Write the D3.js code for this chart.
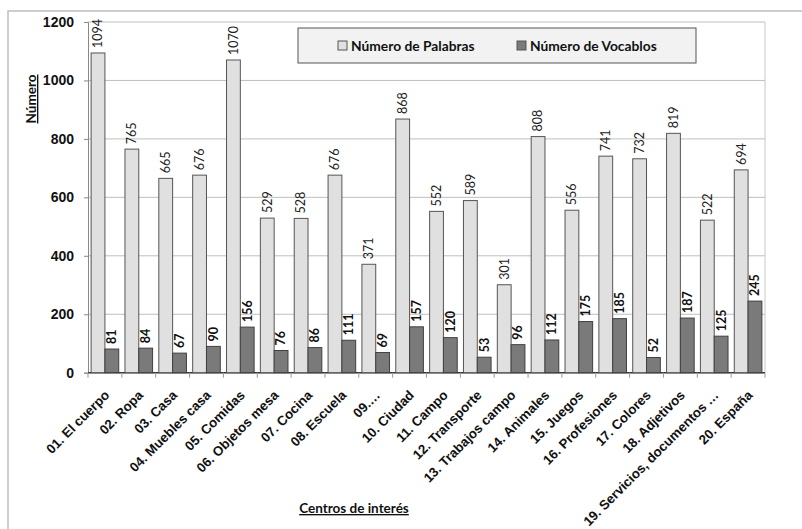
<!DOCTYPE html>
<html>
<head>
<meta charset="utf-8">
<script src="https://cdn.jsdelivr.net/npm/d3@7"></script>
<style>
  html, body { margin: 0; padding: 0; background: #fff; }
  svg { display: block; font-family: Lato, "Open Sans", "Liberation Sans", sans-serif; }
</style>
</head>
<body>
<svg id="chart" width="802" height="529"></svg>
<script>
// Centros de interés y recuentos
const categories = [
  "01. El cuerpo", "02. Ropa", "03. Casa", "04. Muebles casa", "05. Comidas",
  "06. Objetos mesa", "07. Cocina", "08. Escuela", "09.…", "10. Ciudad",
  "11. Campo", "12. Transporte", "13. Trabajos campo", "14. Animales", "15. Juegos",
  "16. Profesiones", "17. Colores", "18. Adjetivos", "19. Servicios, documentos …", "20. España"
];
const palabras = [1094, 765, 665, 676, 1070, 529, 528, 676, 371, 868, 552, 589, 301, 808, 556, 741, 732, 819, 522, 694];
const vocablos = [81, 84, 67, 90, 156, 76, 86, 111, 69, 157, 120, 53, 96, 112, 175, 185, 52, 187, 125, 245];
const seriesNames = ["Número de Palabras", "Número de Vocablos"];
const yTicks = [0, 200, 400, 600, 800, 1000, 1200];

const svg = d3.select("#chart");
const plotLeft = 88, plotRight = 765, plotTop = 22, plotBottom = 372.7;

// Marco exterior
svg.append("path")
  .attr("d", "M8,529 L8,11 L802,11")
  .attr("fill", "none").attr("stroke", "#bdbdbd").attr("stroke-width", 1.5);

const x = d3.scaleBand().domain(categories).range([plotLeft, plotRight]).paddingInner(0).paddingOuter(0);
const x1 = d3.scaleBand().domain(seriesNames).range([0, x.bandwidth()]).paddingInner(0).paddingOuter(0.226);
const y = d3.scaleLinear().domain([0, 1200]).range([plotBottom, plotTop]);

// Líneas de cuadrícula
svg.append("g").selectAll("line").data(yTicks.filter(d => d > 0)).join("line")
  .attr("x1", plotLeft).attr("x2", plotRight)
  .attr("y1", d => y(d)).attr("y2", d => y(d))
  .attr("stroke", "#bfbfbf").attr("stroke-width", 1);
// Borde derecho del área de trazado
svg.append("line").attr("x1", plotRight).attr("x2", plotRight).attr("y1", plotTop).attr("y2", plotBottom)
  .attr("stroke", "#c8c8c8").attr("stroke-width", 1);

// Eje Y
const yAxis = svg.append("g").attr("transform", `translate(${plotLeft},0)`)
  .call(d3.axisLeft(y).tickValues(yTicks).tickSize(4).tickPadding(10).tickFormat(d3.format("d")));
yAxis.select(".domain").attr("stroke", "#888");
yAxis.selectAll(".tick line").attr("stroke", "#888");
yAxis.selectAll(".tick text").attr("font-size", 14).attr("font-weight", "bold").attr("fill", "#111");

// Eje X
const xAxis = svg.append("g").attr("transform", `translate(0,${plotBottom})`)
  .call(d3.axisBottom(x).tickSize(0).tickPadding(0));
xAxis.select(".domain").remove();
xAxis.append("line").attr("x1", plotLeft).attr("x2", plotRight).attr("stroke", "#333").attr("stroke-width", 1.5);
xAxis.selectAll(".boundary").data(d3.range(categories.length + 1)).join("line")
  .attr("class", "boundary")
  .attr("x1", i => plotLeft + i * x.step()).attr("x2", i => plotLeft + i * x.step())
  .attr("y1", 0).attr("y2", 5).attr("stroke", "#999");
xAxis.selectAll(".tick text")
  .attr("font-size", 13.3).attr("font-weight", "bold").attr("fill", "#111")
  .attr("text-anchor", "end")
  .attr("transform", "translate(2,20) rotate(-45)")
  .attr("dy", "0.35em");

const groups = svg.append("g").selectAll("g").data(categories).join("g")
  .attr("transform", d => `translate(${x(d)},0)`);

// Barras: palabras
groups.append("rect")
  .attr("x", x1(seriesNames[0])).attr("width", x1.bandwidth())
  .attr("y", (d, i) => y(palabras[i])).attr("height", (d, i) => y(0) - y(palabras[i]))
  .attr("fill", "#e0e0e0").attr("stroke", "#555").attr("stroke-width", 1);
// Barras: vocablos
groups.append("rect")
  .attr("x", x1(seriesNames[1])).attr("width", x1.bandwidth())
  .attr("y", (d, i) => y(vocablos[i])).attr("height", (d, i) => y(0) - y(vocablos[i]))
  .attr("fill", "#7a7a7a").attr("stroke", "#404040").attr("stroke-width", 1);

// Etiquetas de valor
groups.append("text")
  .attr("transform", (d, i) => `translate(${x1(seriesNames[0]) + x1.bandwidth() / 2},${y(palabras[i]) - 5}) rotate(-90)`)
  .attr("dy", "0.35em").attr("text-anchor", "start")
  .attr("font-size", 12.5).attr("fill", "#222")
  .text((d, i) => palabras[i]);
groups.append("text")
  .attr("transform", (d, i) => `translate(${x1(seriesNames[1]) + x1.bandwidth() / 2},${y(vocablos[i]) - 5}) rotate(-90)`)
  .attr("dy", "0.35em").attr("text-anchor", "start")
  .attr("font-size", 12.5).attr("font-weight", "bold").attr("fill", "#111")
  .text((d, i) => vocablos[i]);

// Leyenda
const legend = svg.append("g");
legend.append("rect").attr("x", 298).attr("y", 28).attr("width", 398).attr("height", 35)
  .attr("fill", "#f2f2f2").attr("stroke", "#555").attr("stroke-width", 1);
const legendX = [338, 517];
const legendFill = ["#e0e0e0", "#7a7a7a"];
seriesNames.forEach((name, i) => {
  legend.append("rect").attr("x", legendX[i]).attr("y", 41).attr("width", 9).attr("height", 9)
    .attr("fill", legendFill[i]).attr("stroke", "#555");
  legend.append("text").attr("x", legendX[i] + 13).attr("y", 50.5)
    .attr("font-size", 13.8).attr("font-weight", "bold").attr("fill", "#111").text(name);
});

// Títulos de los ejes
svg.append("text").attr("transform", "translate(36,99) rotate(-90)")
  .attr("text-anchor", "middle").attr("font-size", 13.5).attr("font-weight", "bold")
  .attr("text-decoration", "underline").attr("fill", "#111").text("Número");
svg.append("text").attr("x", 354).attr("y", 513)
  .attr("text-anchor", "middle").attr("font-size", 13.5).attr("font-weight", "bold")
  .attr("text-decoration", "underline").attr("fill", "#111").text("Centros de interés");
</script>
</body>
</html>
